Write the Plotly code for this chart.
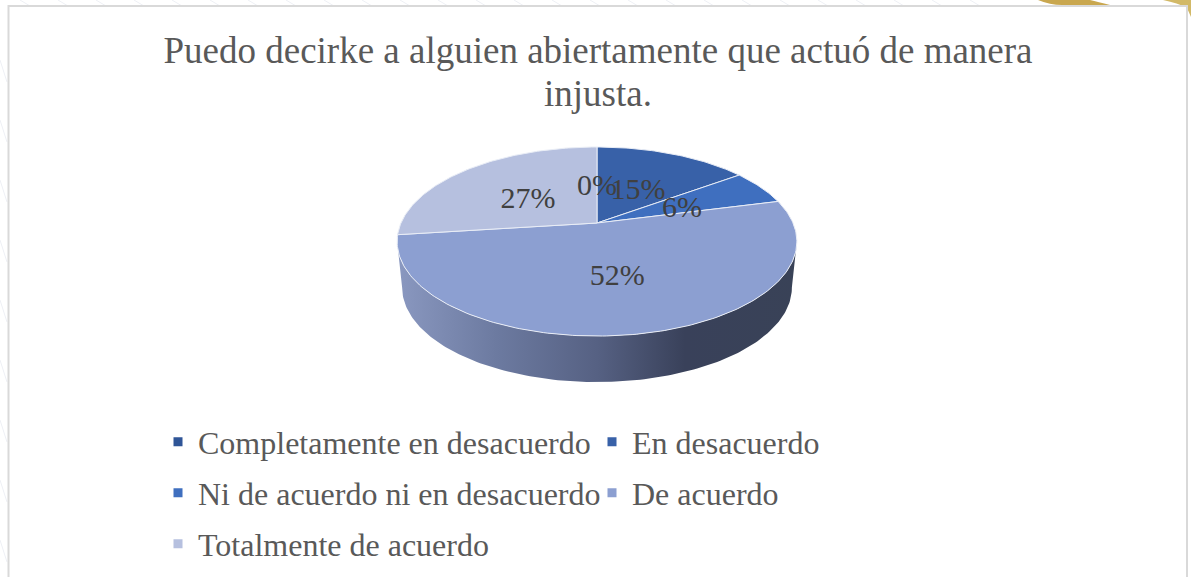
import math
import plotly.graph_objects as go

# ---- data ----
categories = ["Completamente en desacuerdo", "En desacuerdo",
              "Ni de acuerdo ni en desacuerdo", "De acuerdo", "Totalmente de acuerdo"]
values = [0, 15, 6, 52, 27]
slice_colors = ["#2f5597", "#3861a8", "#3f6fbf", "#8c9fd1", "#b6c0df"]
title_line_1 = "Puedo decirke a alguien abiertamente que actuó de manera"
title_line_2 = "injusta."
legend_rows = [[0, 1], [2, 3], [4]]
legend_row_y = [442, 493, 544]

# ---- view geometry (perspective projection of the pie disc) ----
W, H = 1191, 577
CX, CY, A, B, K = 597, 223, 196, 90.9, 0.196
DEPTH, BASE_SHRINK = 46, 0.975
SERIF = "Liberation Serif"


def project(theta, r=1.0):
    u, v = r * math.sin(theta), r * math.cos(theta)
    d = 1 + K * v
    return CX + A * u / d, CY - B * v / d


def arc(t0, t1, step=math.radians(1)):
    n = max(1, int(abs(t1 - t0) / step))
    return [project(t0 + (t1 - t0) * i / n) for i in range(n + 1)]


fig = go.Figure()

# side wall: front half of the rim, extruded downward
t_right = math.radians(90 + 11.3)
t_left = math.radians(270 - 11.3)
front = arc(t_right, t_left)
base = [(CX + (x - CX) * BASE_SHRINK, y + DEPTH) for x, y in reversed(front)]
wall = front + base + front[:1]
fig.add_trace(go.Scatter(
    x=[p[0] for p in wall], y=[p[1] for p in wall], mode="lines",
    line=dict(width=0), fill="toself", showlegend=False, hoverinfo="skip",
    fillgradient=dict(type="horizontal", colorscale=[
        [0, "#8a98c0"], [0.25, "#6c7aa0"], [0.5, "#566183"], [0.72, "#39415a"], [1, "#394257"]]),
))

# top face slices
total = sum(values)
cum = 0
label_x, label_y, label_text = [], [], []
for name, val, col in zip(categories, values, slice_colors):
    t0 = 2 * math.pi * cum / total
    t1 = 2 * math.pi * (cum + val) / total
    rim = arc(t0, t1)
    pts = [(CX, CY)] + rim + [(CX, CY)]
    fig.add_trace(go.Scatter(
        x=[p[0] for p in pts], y=[p[1] for p in pts], mode="lines",
        line=dict(color="#e9edf6", width=1), fill="toself", fillcolor=col,
        name=name, showlegend=False,
    ))
    mx, my = project((t0 + t1) / 2, 0.5)
    label_x.append(mx)
    label_y.append(my + 5.5)
    label_text.append(f"{val}%")
    cum += val

fig.add_trace(go.Scatter(
    x=label_x, y=label_y, text=label_text, mode="text", textposition="middle center",
    textfont=dict(family=SERIF, size=30, color="#404040"), showlegend=False, hoverinfo="skip",
))

# legend entries
legend_ids = ["legend", "legend2", "legend3"]
for lid, row in zip(legend_ids, legend_rows):
    for i in row:
        fig.add_trace(go.Scatter(
            x=[None], y=[None], mode="markers", name=categories[i], legend=lid,
            marker=dict(symbol="square", size=9, color=slice_colors[i]),
        ))

layout_legends = {}
for lid, ypx in zip(legend_ids, legend_row_y):
    layout_legends[lid] = dict(
        orientation="h", x=158 / W, xanchor="left", y=1 - ypx / H, yanchor="middle",
        entrywidth=389, entrywidthmode="pixels", bgcolor="rgba(0,0,0,0)", borderwidth=0,
        font=dict(family=SERIF, size=32, color="#595959"),
    )

# page decoration: faint stripes, gold corner, card frame
shapes = []
for x0 in range(20, 1000, 38):
    shapes.append(dict(type="line", xref="x", yref="y", x0=x0, y0=0, x1=x0 + 10, y1=6,
                       line=dict(color="#eef0f5", width=1), layer="below"))
for y0 in range(60, 560, 60):
    shapes.append(dict(type="line", xref="x", yref="y", x0=0, y0=y0, x1=7, y1=y0 + 22,
                       line=dict(color="#eef0f5", width=1), layer="below"))
shapes += [
    dict(type="path", path="M 1038 0 Q 1050 5 1062 5 L 1110 5 Q 1098 2 1090 0 Z",
         fillcolor="#c9a74f", line=dict(width=0), layer="below"),
    dict(type="path", path="M 1163 0 Q 1178 3 1187 8 L 1191 17 L 1191 0 Z",
         fillcolor="#d2b967", line=dict(width=0), layer="below"),
    dict(type="rect", x0=8.5, y0=6, x1=1187, y1=590, fillcolor="white",
         line=dict(color="#d9d9d9", width=2), layer="below"),
]

fig.update_layout(
    width=W, height=H, margin=dict(l=0, r=0, t=0, b=0),
    paper_bgcolor="white", plot_bgcolor="rgba(0,0,0,0)",
    xaxis=dict(range=[0, W], visible=False, fixedrange=True),
    yaxis=dict(range=[H, 0], visible=False, fixedrange=True),
    title=dict(text=title_line_1, x=598 / W, xanchor="center", y=1 - 50 / H, yanchor="middle",
               font=dict(family=SERIF, size=37, color="#595959")),
    annotations=[dict(text=title_line_2, x=598, y=93, xref="x", yref="y", showarrow=False,
                      xanchor="center", yanchor="middle",
                      font=dict(family=SERIF, size=37, color="#595959"))],
    shapes=shapes, showlegend=True,
    **layout_legends,
)

fig.write_html("out.html", config={"displayModeBar": False},
               post_script="document.body.style.margin='0';document.body.style.overflow='hidden';")
